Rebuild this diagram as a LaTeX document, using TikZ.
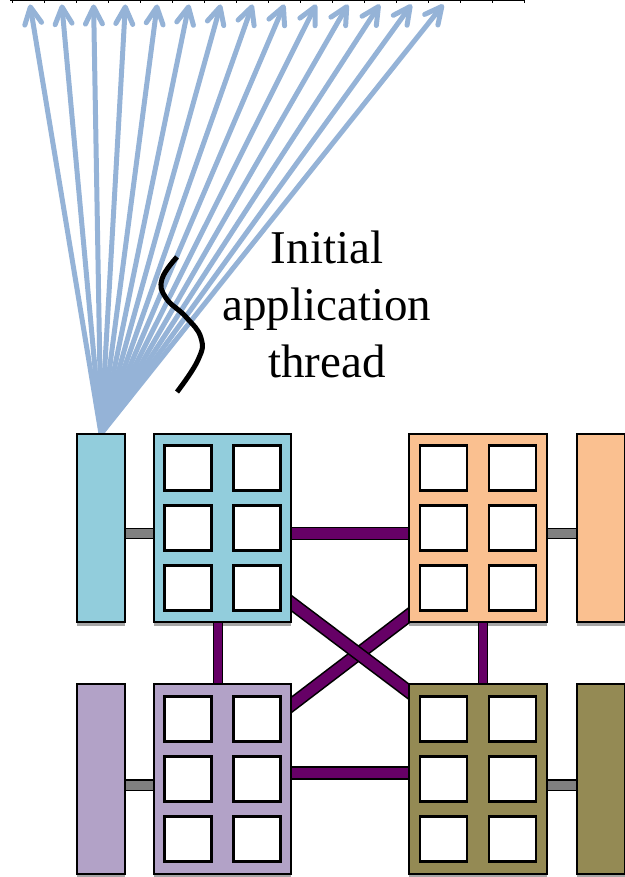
\documentclass[tikz,border=0pt]{standalone}
\usepackage{fontspec}
\setmainfont{Liberation Serif}
\usetikzlibrary{arrows.meta}
\pgfdeclarelayer{links}
\pgfsetlayers{links,main}

\definecolor{fanblue}{HTML}{95B3D7}
\definecolor{nodeblue}{HTML}{92CDDC}
\definecolor{nodeorange}{HTML}{FAC090}
\definecolor{nodelilac}{HTML}{B2A2C7}
\definecolor{nodeolive}{HTML}{948A54}
\definecolor{linkpurple}{HTML}{660066}
\definecolor{linkgray}{HTML}{808080}
\definecolor{shadowgray}{HTML}{A6A6A6}

\begin{document}
\begin{tikzpicture}[x=1pt,y=-1pt,
  socket/.style={draw=black, line width=1.8pt, minimum width=137.4pt,
    minimum height=#1, inner sep=0pt, outer sep=0pt},
  memory/.style={draw=black, line width=1.8pt, minimum width=48.4pt,
    minimum height=#1, inner sep=0pt, outer sep=0pt},
  core/.style={draw=black, fill=white, line width=2.8pt, minimum width=47pt,
    minimum height=45.6pt, inner sep=0pt, outer sep=0pt},
  purplelink/.style={draw=black, line width=1.6pt, double=linkpurple,
    double distance=#1, shorten <=-3pt, shorten >=-3pt},
  purplelink/.default=10.5pt,
  crosslink/.style={purplelink, shorten <=-14pt, shorten >=-14pt},
  graylink/.style={draw=black, line width=1.3pt, double=linkgray,
    double distance=9pt, shorten <=-3pt, shorten >=-3pt},
  fan/.style={draw=fanblue, line width=5pt,
    -{Straight Barb[length=17pt, width=17pt, round]}},
  thread/.style={draw=black, line width=5pt},
  caption/.style={font=\fontsize{47pt}{57pt}\selectfont, inner sep=0pt, anchor=base},
  shadow/.style={fill=shadowgray}
]
\useasboundingbox (0,0) rectangle (624,877);

% memory banks and sockets, upper row
\node[memory=188.4pt, fill=nodeblue]   (smallA) at (101,528) {};
\node[socket=188.4pt, fill=nodeblue]   (bigA)   at (222.5,528) {};
\node[socket=188.4pt, fill=nodeorange] (bigB)   at (478,528) {};
\node[memory=188.4pt, fill=nodeorange] (smallB) at (601,528) {};
% lower row
\node[memory=190.4pt, fill=nodelilac]  (smallC) at (101,779) {};
\node[socket=190.4pt, fill=nodelilac]  (bigC)   at (222.5,779) {};
\node[socket=190.4pt, fill=nodeolive]  (bigD)   at (478,779) {};
\node[memory=190.4pt, fill=nodeolive]  (smallD) at (601,779) {};

% six cores per socket
\foreach \b in {bigA,bigB,bigC,bigD}{
  \foreach \dx/\c in {-34.5/1,34.5/2}{
    \foreach \dy/\r in {-60/1,0/2,60/3}{
      \node[core] (\b-\r\c) at ([shift={(\dx,\dy)}]\b.center) {};
    }
  }
}

\begin{pgfonlayer}{links}
  % shadows under the boxes
  \foreach \b in {smallA,bigA,bigB,smallB,smallC,bigC,bigD,smallD}{
    \fill[shadow] (\b.south west) rectangle ([shift={(0,4)}]\b.south east);
  }
  % memory links
  \draw[graylink] ([shift={(0,5.5)}]smallA.east) -- ([shift={(0,5.5)}]bigA.west);
  \draw[graylink] ([shift={(0,5.5)}]bigB.east) -- ([shift={(0,5.5)}]smallB.west);
  \draw[graylink] ([shift={(0,6)}]smallC.east) -- ([shift={(0,6)}]bigC.west);
  \draw[graylink] ([shift={(0,6)}]bigD.east) -- ([shift={(0,6)}]smallD.west);
  % socket interconnect
  \draw[purplelink] ([shift={(0,5.5)}]bigA.east) -- ([shift={(0,5.5)}]bigB.west);
  \draw[purplelink] ([shift={(0,-6)}]bigC.east) -- ([shift={(0,-6)}]bigD.west);
  \draw[purplelink=7.5pt] ([shift={(-4.5,0)}]bigA.south) -- ([shift={(-4.5,0)}]bigC.north);
  \draw[purplelink=7.5pt] ([shift={(5,0)}]bigB.south) -- ([shift={(5,0)}]bigD.north);
  \draw[crosslink] ([shift={(0,-74)}]bigC.east) -- ([shift={(0,87)}]bigB.west);
  \draw[crosslink] ([shift={(0,75)}]bigA.east) -- ([shift={(0,-87)}]bigD.west);
  % fan of spawned threads
  \foreach \i in {1,...,14}{
    \coordinate (tip\i) at ({30+31.8*(\i-1)},4.5);
    \draw[fan] (smallA.north) -- (tip\i);
  }
\end{pgfonlayer}

% rule along the top edge
\draw[line width=1.3pt] (10,0.6) -- (525,0.6);
\foreach \k in {0,...,16}{
  \draw[line width=0.8pt] ({12+32*\k},0.6) -- ++(0,2.5);
}

% thread symbol and its caption
\draw[thread] plot[smooth, tension=0.75] coordinates
  {(177,257) (162,279) (166,298) (186,317) (201,338) (198,360) (177,392)};
\node[caption] (lab1) at (327,263) {Initial};
\node[caption] (lab2) at (327,320) {application};
\node[caption] (lab3) at (327,377) {thread};
\end{tikzpicture}
\end{document}
